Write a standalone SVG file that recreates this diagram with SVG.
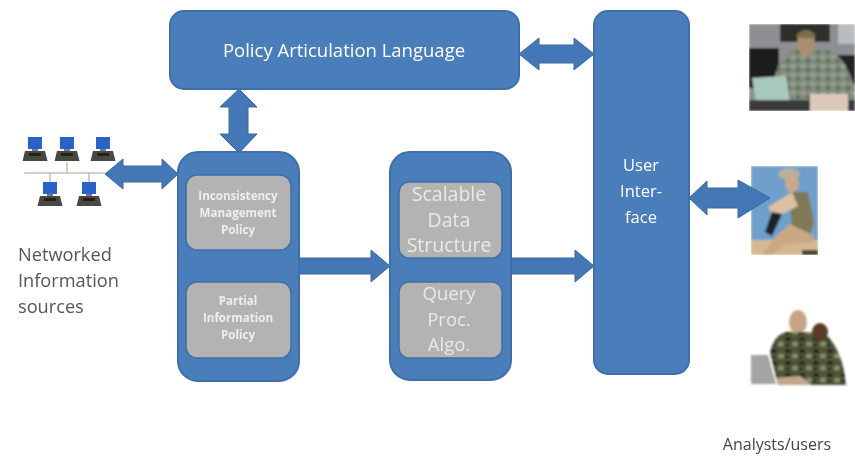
<svg xmlns="http://www.w3.org/2000/svg" width="855" height="456" viewBox="0 0 855 456">
<style>
.box{fill:#4a7ebb;stroke:#3f6fa8;stroke-width:2}
.in{fill:#b3b3b3;stroke:#3f6fa8;stroke-width:1.5}
.arr{fill:#4477b5;stroke:#3a6aa3;stroke-width:1}
text{font-family:"Open Sans","Liberation Sans",sans-serif;text-anchor:middle}
.w{fill:#fff}
.s{fill:#eeeeee;font-weight:700;font-size:11.6px;filter:url(#b5)}
.d{fill:#555;font-size:18.2px;text-anchor:start;filter:url(#b3)}
.scr{fill:#2c62c8}
.base{fill:#4a4a42}
.net{stroke:#c4bfb6;stroke-width:1.5;fill:none}
</style>
<defs>
<filter id="b3"><feGaussianBlur stdDeviation="0.35"/></filter>
<filter id="b5"><feGaussianBlur stdDeviation="0.65"/></filter>
<filter id="b1" x="-5%" y="-5%" width="110%" height="110%"><feGaussianBlur stdDeviation="1"/></filter>
<pattern id="camo" width="14" height="12" patternUnits="userSpaceOnUse">
<rect width="14" height="12" fill="#4f5538"/>
<ellipse cx="4" cy="3" rx="3" ry="2" fill="#22241a"/>
<ellipse cx="11" cy="8" rx="3" ry="2.5" fill="#8b8d6c"/>
<ellipse cx="3" cy="9" rx="2" ry="1.5" fill="#2e2a1e"/>
</pattern>
<pattern id="acu" width="10" height="9" patternUnits="userSpaceOnUse">
<rect width="10" height="9" fill="#7f8b7c"/>
<ellipse cx="3" cy="3" rx="2.5" ry="1.6" fill="#a3a89a"/>
<ellipse cx="8" cy="7" rx="2" ry="1.4" fill="#55604f"/>
</pattern>
<g id="pc"><rect class="scr" x="-7" y="-13" width="14" height="12"/><rect x="-3" y="-1" width="6" height="2" fill="#6d7d94"/><path class="base" d="M-10 1H10L12.5 11H-12.5Z"/><rect x="-6" y="3" width="12" height="3" fill="#22221e"/></g>
<clipPath id="c1"><rect x="749" y="24" width="106" height="87"/></clipPath>
<clipPath id="c2"><rect x="751" y="166" width="67" height="89"/></clipPath>
</defs>

<g id="connectors">
<path class="arr" d="M519 54L539 38V45H574V38L594 54L574 70V63H539V70Z"/>
<path class="arr" d="M239 89L257 107H248V134H257L239 153L220 134H229V107H220Z"/>
<path class="arr" d="M105 174L123 159V166H162V159L178 174L162 189V182H123V189Z"/>
<path class="arr" d="M299 258H371V250L390 266L371 282V274H299Z"/>
<path class="arr" d="M511 258H575V250L594 266L575 282V274H511Z"/>
</g>

<g id="policy-language">
<rect class="box" x="170" y="11" width="349" height="78" rx="14"/>
<text class="w" x="344" y="57" font-size="18.5" filter="url(#b3)">Policy Articulation Language</text>
</g>

<g id="user-interface">
<rect class="box" x="594" y="11" width="95" height="363" rx="14"/>
<g class="w" font-size="16.5" filter="url(#b3)">
<text x="641" y="171">User</text><text x="641" y="197">Inter-</text><text x="641" y="223">face</text>
</g>
</g>

<g id="policy-group">
<rect class="box" x="178" y="152" width="121" height="229" rx="20"/>
</g>
<g id="inconsistency-policy">
<rect class="in" x="186" y="175" width="105" height="75" rx="11"/>
<text class="s" x="238" y="200">Inconsistency</text><text class="s" x="238" y="217">Management</text><text class="s" x="238" y="234">Policy</text>
</g>
<g id="partial-policy">
<rect class="in" x="186" y="282" width="105" height="76" rx="11"/>
<text class="s" x="238" y="305">Partial</text><text class="s" x="238" y="322">Information</text><text class="s" x="238" y="339">Policy</text>
</g>

<g id="data-group">
<rect class="box" x="390" y="152" width="121" height="228" rx="20"/>
</g>
<g id="scalable-structure">
<rect class="in" x="399" y="182" width="103" height="76" rx="10"/>
<g fill="#ece8e2" font-size="19.5" filter="url(#b3)"><text x="449" y="201">Scalable</text><text x="449" y="227">Data</text><text x="449" y="252">Structure</text></g>
</g>
<g id="query-algo">
<rect class="in" x="399" y="282" width="103" height="76" rx="10"/>
<g fill="#ece8e2" font-size="18.5" filter="url(#b3)"><text x="449" y="300">Query</text><text x="449" y="326">Proc.</text><text x="449" y="351">Algo.</text></g>
</g>

<g id="networked-sources">
<g filter="url(#b3)">
<path class="net" d="M24 173H105M50 173V183M67 173V162M89 173V183"/>
<use href="#pc" x="35" y="150"/><use href="#pc" x="67" y="150"/><use href="#pc" x="103" y="150"/>
<use href="#pc" x="50" y="195"/><use href="#pc" x="89" y="195"/>
</g>
<text class="d" x="18" y="261">Networked</text><text class="d" x="18" y="287">Information</text><text class="d" x="18" y="313">sources</text>
</g>

<g id="analyst-1">
<g clip-path="url(#c1)"><g filter="url(#b1)">
<rect x="749" y="24" width="106" height="87" fill="#8d8f92"/>
<rect x="749" y="48" width="30" height="40" fill="#1c1e1c"/>
<rect x="780" y="24" width="50" height="18" fill="#2d2d2c"/>
<rect x="838" y="24" width="17" height="20" fill="#b9bcc0"/>
<rect x="838" y="55" width="17" height="30" fill="#222"/>
<path d="M774 80Q778 54 800 48L826 50Q848 56 855 92V111H780Z" fill="url(#acu)"/>
<ellipse cx="806" cy="43" rx="9" ry="13" fill="#a98f70"/>
<path d="M797 34Q806 26 815 34V38H797Z" fill="#7b6d50"/>
<path d="M752 78L786 76L790 102H756Z" fill="#a8c8bf"/>
<rect x="749" y="100" width="106" height="11" fill="#3a3a3c"/>
<path d="M810 94H848V111H810Z" fill="#dcc8b8"/>
</g></g>
</g>

<g id="analyst-2">
<g clip-path="url(#c2)"><g filter="url(#b1)">
<rect x="751" y="166" width="67" height="89" fill="#6f9fcb"/>
<rect x="751" y="240" width="67" height="15" fill="#d4b892"/>
<ellipse cx="789" cy="174" rx="11" ry="6" fill="#b8b09c"/>
<ellipse cx="792" cy="184" rx="7" ry="8" fill="#cba988"/>
<path d="M790 192L808 192L814 222L810 236H792Z" fill="#7f7a55"/>
<path d="M768 207L792 192L798 206L775 218Z" fill="#dcc0a0"/>
<path d="M765 232L772 212L782 214L772 236Z" fill="#1f2226"/>
<path d="M776 236L790 224L815 236L810 243L786 244L772 255H762Z" fill="#c9a883"/>
<rect x="802" y="250" width="16" height="5" fill="#4a4030"/>
</g></g>
</g>

<g id="analyst-3">
<g filter="url(#b1)">
<ellipse cx="798" cy="322" rx="9" ry="12" fill="#c8a486"/>
<path d="M770 352Q776 330 792 332L822 332Q842 345 846 385H778Z" fill="url(#camo)"/>
<ellipse cx="820" cy="332" rx="8" ry="9" fill="#5a3a28"/>
<path d="M751 355H768L776 384H751Z" fill="#a3a5a3"/>
<path d="M776 378L800 376L812 385H778Z" fill="#c4a58d"/>
</g>
</g>

<g id="ui-analyst-link">
<path class="arr" d="M689 198L707 181V188H738V180L770 198L738 218V208H707V215Z"/>
</g>
<text id="analysts-label" x="777" y="450" font-size="16" fill="#444" filter="url(#b3)">Analysts/users</text>
</svg>
